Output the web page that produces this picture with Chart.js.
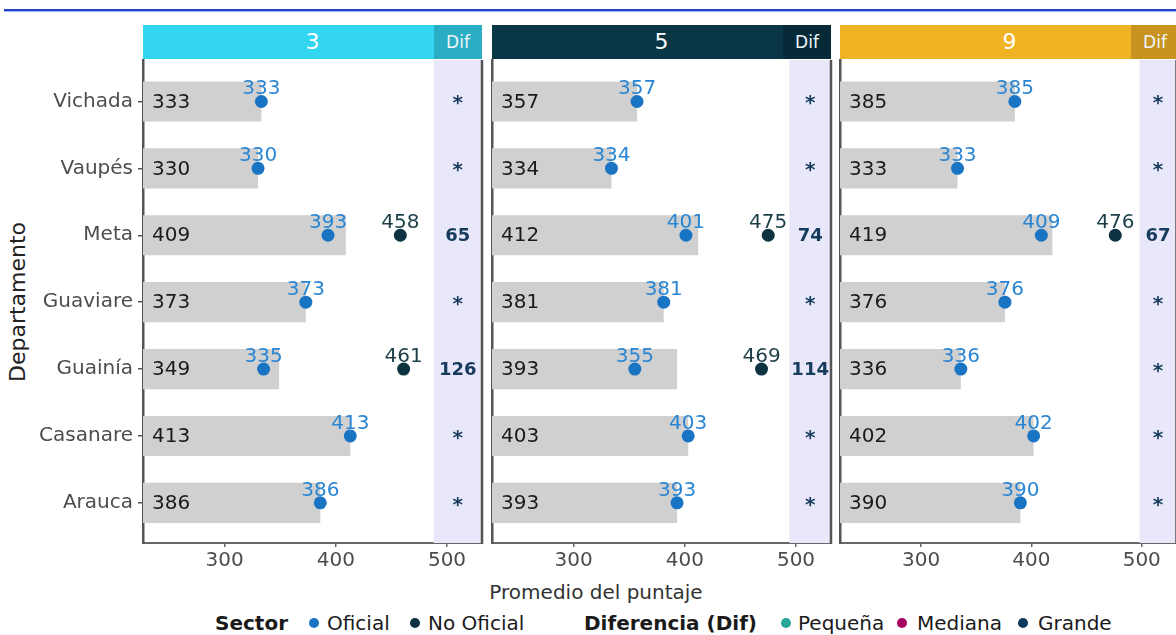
<!DOCTYPE html>
<html><head><meta charset="utf-8">
<script src="https://cdn.jsdelivr.net/npm/chart.js@4.4.1/dist/chart.umd.min.js"></script>
<style>
html,body{margin:0;padding:0;width:1176px;height:635px;overflow:hidden;background:#fff;font-family:"DejaVu Sans",sans-serif;position:relative;}
.abs{position:absolute;white-space:nowrap;}
canvas{position:absolute;top:0;}
.strip{position:absolute;top:25px;height:34px;color:#fff;font-size:22px;line-height:34px;text-align:center;overflow:hidden;}
.strip .dif{position:absolute;right:0;top:0;width:48px;height:34px;font-size:17px;line-height:34px;text-align:center;color:#eef6f8;}
.leg{position:absolute;top:611px;font-size:20px;line-height:24px;color:#1a1a1a;white-space:nowrap;}
.dot{position:absolute;top:618px;width:10px;height:10px;border-radius:50%;}
</style></head><body>
<div class="abs" style="left:4px;top:9px;width:1172px;height:2px;background:#2442c4"></div>
<div class="abs" style="left:4px;top:11px;width:1172px;height:1px;background:#9fb0ea"></div>

<div id="strips"></div>

<div class="abs" style="left:17px;top:302px;transform:translate(-50%,-50%) rotate(-90deg);font-size:22px;color:#222;">Departamento</div>
<div class="abs" style="left:596px;top:592px;transform:translate(-50%,-50%);font-size:20px;color:#333;">Promedio del puntaje</div>

<div class="leg" style="left:215px;font-weight:bold;">Sector</div>
<div class="dot" style="left:309px;background:#1a74c4"></div>
<div class="leg" style="left:327px;">Oficial</div>
<div class="dot" style="left:410px;background:#0d3340"></div>
<div class="leg" style="left:428px;">No Oficial</div>
<div class="leg" style="left:584px;font-weight:bold;">Diferencia (Dif)</div>
<div class="dot" style="left:781px;background:#26a699"></div>
<div class="leg" style="left:798px;">Pequeña</div>
<div class="dot" style="left:897px;background:#a8005f"></div>
<div class="leg" style="left:917px;">Mediana</div>
<div class="dot" style="left:1018px;background:#0d3a5c"></div>
<div class="leg" style="left:1038px;">Grande</div>

<canvas id="c1" width="490" height="600" style="left:0px"></canvas>
<canvas id="c2" width="354" height="600" style="left:484px"></canvas>
<canvas id="c3" width="350" height="600" style="left:833px"></canvas>

<script>
// ---------------- DATA ----------------
const departamentos = ['Vichada','Vaupés','Meta','Guaviare','Guainía','Casanare','Arauca'];
const grados = ['3','5','9'];
const xTicks = [300,400,500];

const promedio3  = [333,330,409,373,349,413,386];
const oficial3   = [333,330,393,373,335,413,386];
const noOficial3 = [null,null,458,null,461,null,null];
const dif3       = ['*','*','65','*','126','*','*'];

const promedio5  = [357,334,412,381,393,403,393];
const oficial5   = [357,334,401,381,355,403,393];
const noOficial5 = [null,null,475,null,469,null,null];
const dif5       = ['*','*','74','*','114','*','*'];

const promedio9  = [385,333,419,376,336,402,390];
const oficial9   = [385,333,409,376,336,402,390];
const noOficial9 = [null,null,476,null,null,null,null];
const dif9       = ['*','*','67','*','*','*','*'];

// ---------------- LAYOUT ----------------
const FONT = "'DejaVu Sans', sans-serif";
Chart.defaults.font.family = FONT;

const panels = [
  {id:'c1', grado:grados[0], promedio:promedio3, oficial:oficial3, noOficial:noOficial3, dif:dif3,
   canvasLeft:0, yW:143, padR:8, difStart:488, first:true, strip:'#33d6f0', stripDif:'#2badc4'},
  {id:'c2', grado:grados[1], promedio:promedio5, oficial:oficial5, noOficial:noOficial5, dif:dif5,
   canvasLeft:484, yW:8, padR:7, difStart:494, first:false, strip:'#0a3746', stripDif:'#062a38'},
  {id:'c3', grado:grados[2], promedio:promedio9, oficial:oficial9, noOficial:noOficial9, dif:dif9,
   canvasLeft:833, yW:7, padR:4, difStart:498, first:false, strip:'#f0b323', stripDif:'#c8931f'}
];

const PLOT_TOP = 60, PLOT_BOTTOM = 543, CANVAS_H = 600;

function makePlugin(p){
  return {
    id:'deco_'+p.id,
    beforeDatasetsDraw(chart){
      const {ctx, chartArea:a, scales:{x}} = chart;
      const xs = x.getPixelForValue(p.difStart);
      ctx.save();
      ctx.fillStyle = '#e8e8fa';
      ctx.fillRect(xs, a.top, a.right - xs, a.bottom - a.top);
      ctx.restore();
    },
    afterDatasetsDraw(chart){
      const {ctx, chartArea:a, scales:{x, y}} = chart;
      ctx.save();
      // right border of panel
      ctx.strokeStyle = '#555';
      ctx.lineWidth = 2.5;
      ctx.beginPath();
      ctx.moveTo(a.right, a.top);
      ctx.lineTo(a.right, a.bottom + 1);
      ctx.stroke();

      // bar value labels
      const barMeta = chart.getDatasetMeta(0);
      ctx.font = '20px ' + FONT;
      ctx.fillStyle = '#1a1a1a';
      ctx.textAlign = 'left';
      ctx.textBaseline = 'middle';
      barMeta.data.forEach((el, i) => {
        ctx.fillText(String(p.promedio[i]), a.left + 9, el.y + 1);
      });

      // point labels
      ctx.textAlign = 'center';
      ctx.textBaseline = 'alphabetic';
      const ofMeta = chart.getDatasetMeta(1);
      ctx.fillStyle = '#2a86d3';
      ofMeta.data.forEach((el, k) => {
        const raw = chart.data.datasets[1].data[k];
        ctx.fillText(String(raw.x), el.x, el.y - 7);
      });
      const noMeta = chart.getDatasetMeta(2);
      ctx.fillStyle = '#1d3f4a';
      noMeta.data.forEach((el, k) => {
        const raw = chart.data.datasets[2].data[k];
        ctx.fillText(String(raw.x), el.x, el.y - 7);
      });

      // Dif column
      const xs = x.getPixelForValue(p.difStart);
      const cx = (xs + a.right) / 2;
      ctx.fillStyle = '#173b5c';
      p.dif.forEach((d, i) => {
        const yy = y.getPixelForValue(i);
        if (d === '*') {
          ctx.font = 'bold 20px ' + FONT;
          ctx.textBaseline = 'alphabetic';
          ctx.fillText('*', cx, yy + 8);
        } else {
          ctx.font = 'bold 18px ' + FONT;
          ctx.textBaseline = 'middle';
          ctx.fillText(d, cx, yy + 1);
        }
      });
      ctx.restore();
    }
  };
}

const stripsEl = document.getElementById('strips');

panels.forEach(p => {
  const canvas = document.getElementById(p.id);
  const plotLeft = p.canvasLeft + p.yW;
  const plotW = canvas.width - p.yW - p.padR;

  // facet strip
  const s = document.createElement('div');
  s.className = 'strip';
  s.style.left = plotLeft + 'px';
  s.style.width = plotW + 'px';
  s.style.background = p.strip;
  s.innerHTML = '<span>' + p.grado + '</span><div class="dif" style="background:' + p.stripDif + '">Dif</div>';
  stripsEl.appendChild(s);

  new Chart(canvas, {
    type: 'bar',
    data: {
      datasets: [
        {
          type: 'bar',
          label: 'Promedio',
          data: p.promedio.map((v, i) => ({x: v, y: i})),
          backgroundColor: '#d0d0d0',
          borderWidth: 0,
          barPercentage: 0.6,
          categoryPercentage: 1,
          order: 3
        },
        {
          type: 'scatter',
          label: 'Oficial',
          data: p.oficial.map((v, i) => v == null ? null : ({x: v, y: i})).filter(Boolean),
          backgroundColor: '#1a74c4',
          borderWidth: 0,
          pointRadius: 6.5,
          order: 1
        },
        {
          type: 'scatter',
          label: 'No Oficial',
          data: p.noOficial.map((v, i) => v == null ? null : ({x: v, y: i})).filter(Boolean),
          backgroundColor: '#0d3340',
          borderWidth: 0,
          pointRadius: 6.5,
          order: 0
        }
      ]
    },
    options: {
      responsive: false,
      animation: false,
      indexAxis: 'y',
      layout: {padding: {top: PLOT_TOP, right: p.padR, bottom: 0, left: 0}},
      plugins: {legend: {display: false}, tooltip: {enabled: false}},
      scales: {
        x: {
          type: 'linear', min: 226.5, max: 531.5, offset: false,
          afterBuildTicks: sc => { sc.ticks = xTicks.map(v => ({value: v})); },
          afterFit: sc => { sc.height = CANVAS_H - PLOT_BOTTOM; },
          ticks: {font: {size: 20, family: FONT}, color: '#4d4d4d', padding: 2, maxRotation: 0, autoSkip: false,
                  callback: v => String(v)},
          grid: {display: true, offset: false, drawOnChartArea: false, drawTicks: true, tickLength: 4, color: '#666', lineWidth: 1.5},
          border: {display: true, color: '#666', width: 2}
        },
        y: {
          type: 'linear', reverse: true, min: -0.62, max: 6.6, offset: false,
          afterBuildTicks: sc => { sc.ticks = departamentos.map((_, i) => ({value: i})); },
          afterFit: sc => { sc.width = p.yW; },
          ticks: {display: p.first, font: {size: 20, family: FONT}, color: '#4d4d4d', padding: 5, autoSkip: false,
                  callback: v => departamentos[v]},
          grid: {display: true, offset: false, drawOnChartArea: false, drawTicks: p.first, tickLength: 5, color: '#555', lineWidth: 1.5},
          border: {display: true, color: '#555', width: 2.5}
        }
      }
    },
    plugins: [makePlugin(p)]
  });
});
</script>
</body></html>
